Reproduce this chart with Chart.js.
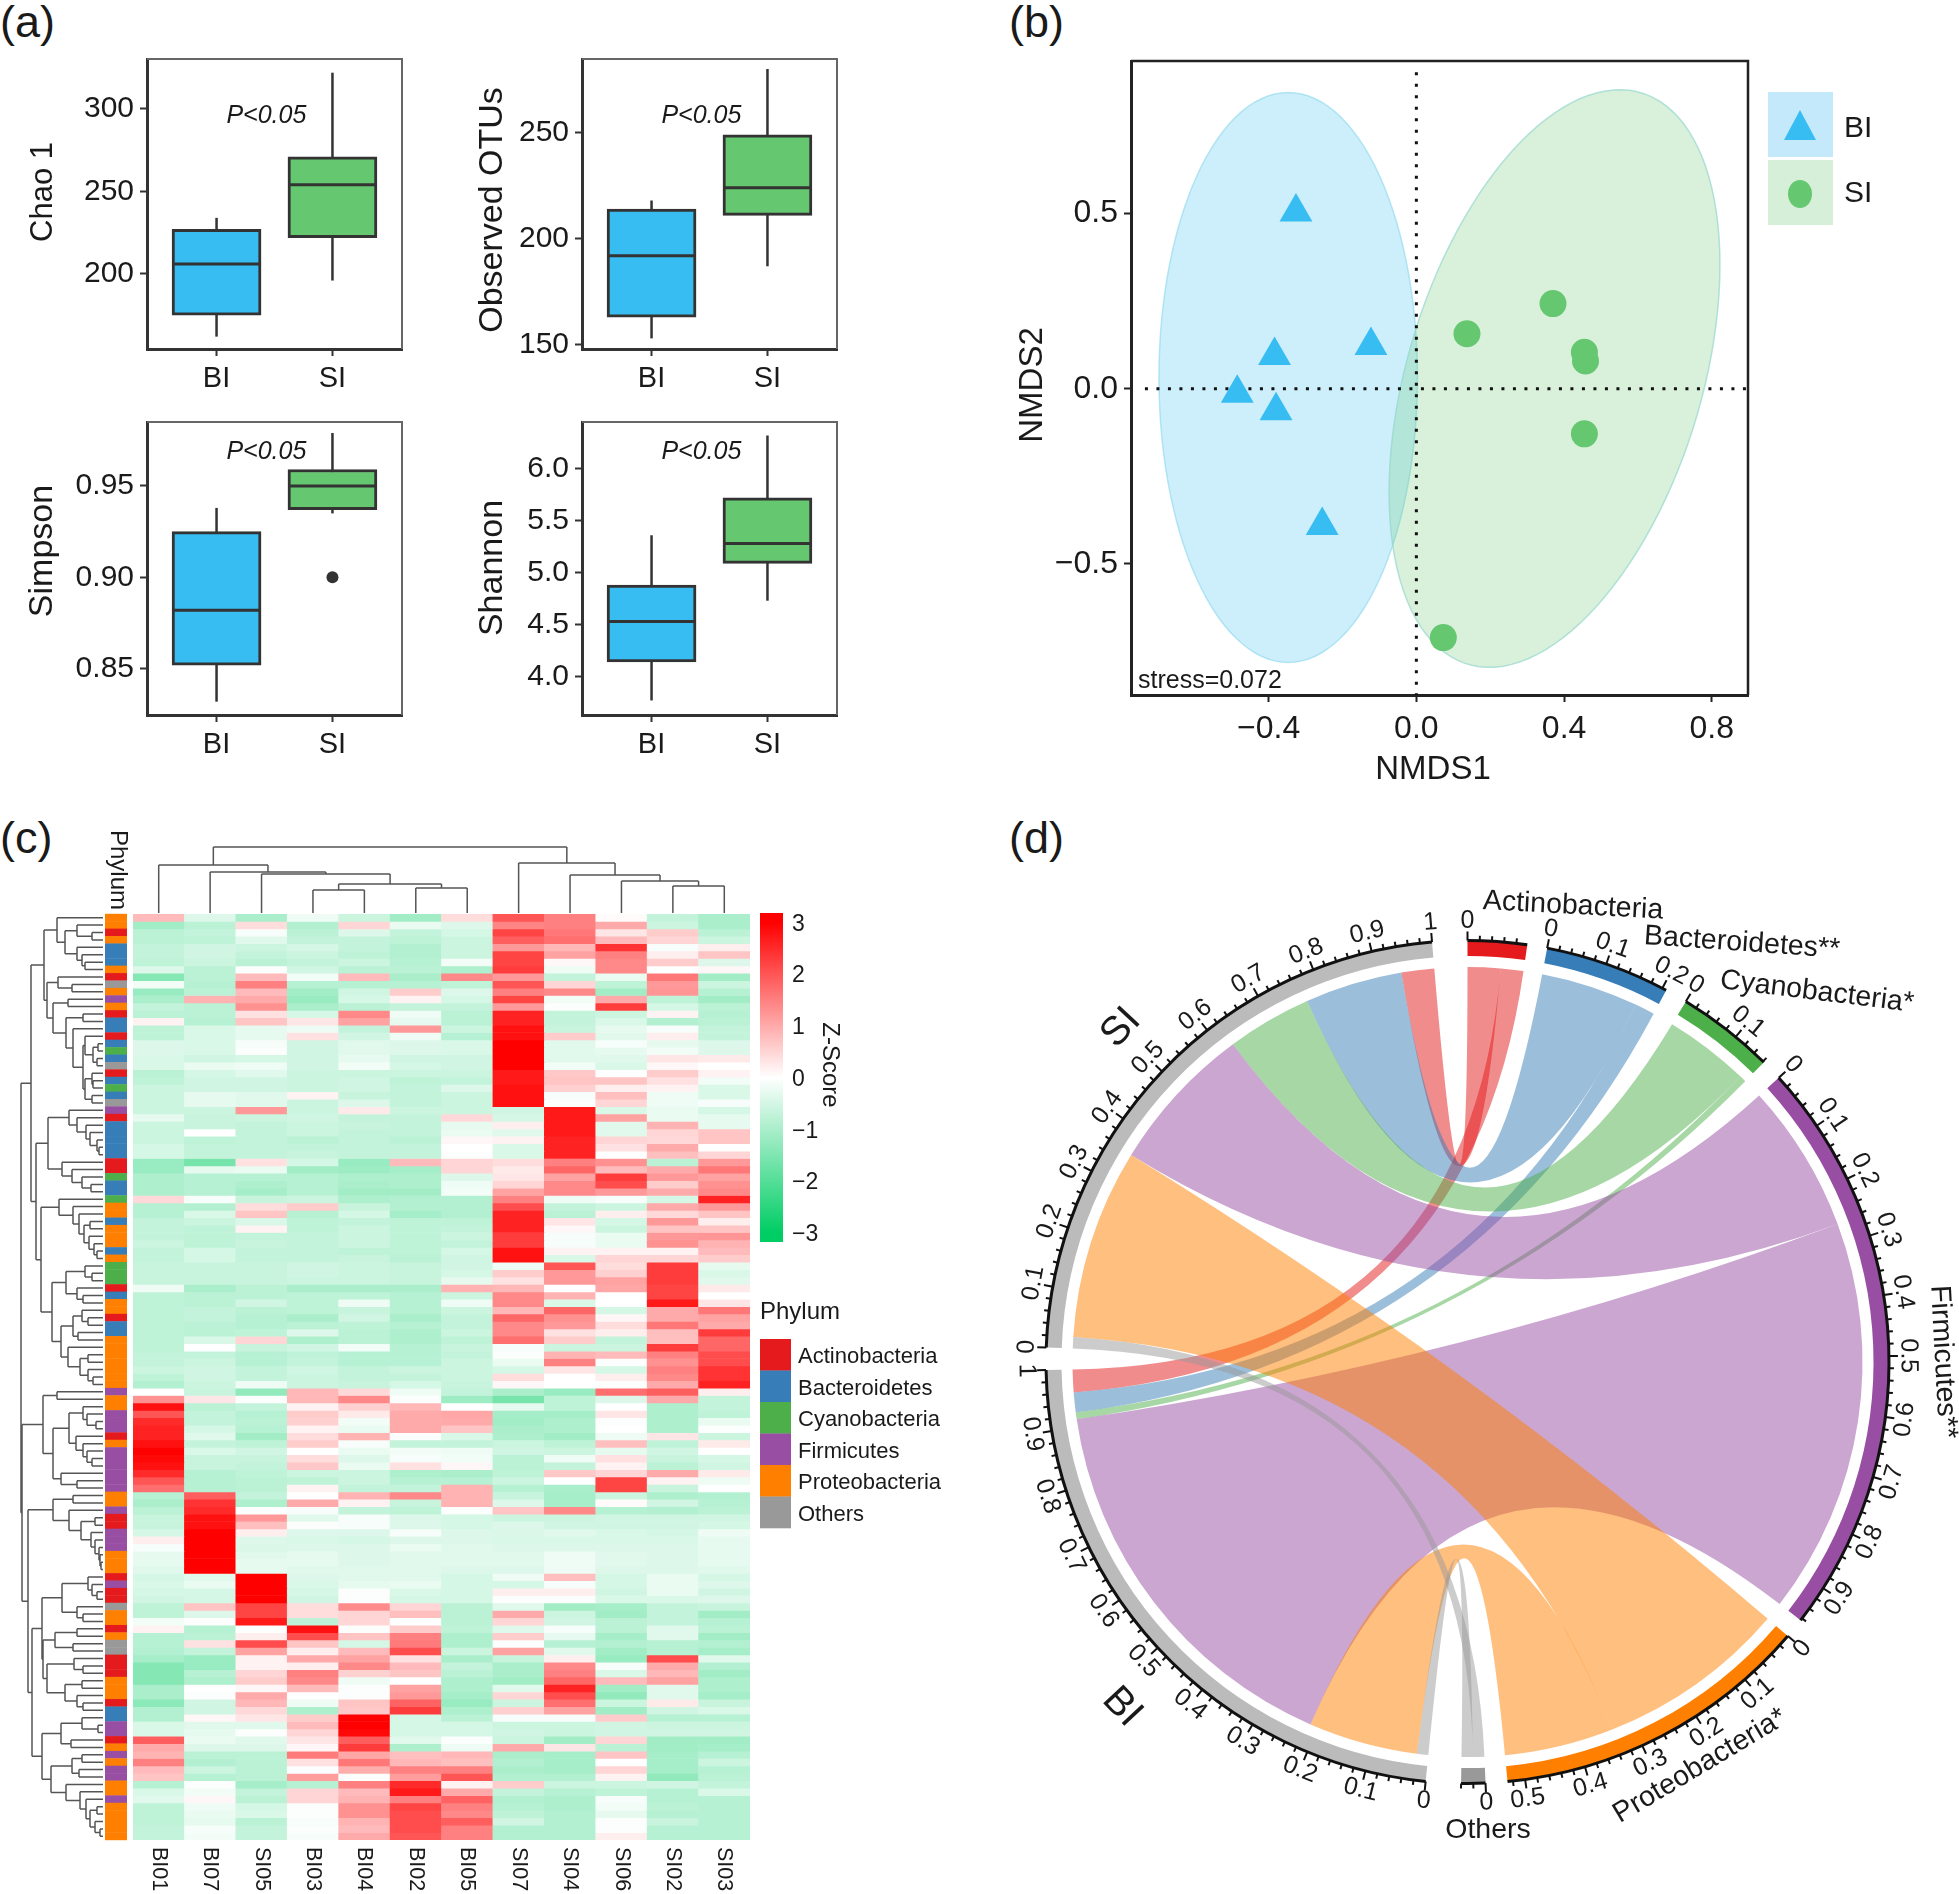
<!DOCTYPE html>
<html>
<head>
<meta charset="utf-8">
<title>Microbiota figure</title>
<script src="https://cdn.jsdelivr.net/npm/chart.js@4/dist/chart.umd.js"></script>
<style>
html, body { margin: 0; padding: 0; background: #fff; width: 1959px; height: 1894px; overflow: hidden; }
canvas { position: absolute; }
.panel { position: absolute; font: 45px "Liberation Sans", Arial, sans-serif; color: #1a1a1a; line-height: 48px; }
</style>
</head>
<body>
<div class="panel" style="left:0;top:-2px">(a)</div>
<div class="panel" style="left:1009px;top:-2px">(b)</div>
<div class="panel" style="left:0;top:814px">(c)</div>
<div class="panel" style="left:1009px;top:814px">(d)</div>
<script>
const FONT = '"Liberation Sans", Arial, sans-serif';
const INK = '#1a1a1a';

// (a) box plots: [low whisker, q1, median, q3, high whisker]
const boxCats = ['BI', 'SI'];
const boxColors = ['#38BDF2', '#66C771'];
const chaoBI = [162, 175, 206, 227, 234];
const chaoSI = [196, 222, 254, 271, 322];
const otusBI = [153, 163, 192, 214, 218];
const otusSI = [187, 211, 224, 249, 280];
const simpsonBI = [0.832, 0.852, 0.882, 0.925, 0.938];
const simpsonSI = [0.935, 0.937, 0.950, 0.959, 0.979];
const simpsonOutlier = [0.90];
const shannonBI = [3.77, 4.14, 4.53, 4.88, 5.36];
const shannonSI = [4.73, 5.09, 5.28, 5.72, 6.32];
const chaoTicks = [200, 250, 300];
const otusTicks = [150, 200, 250];
const simpsonTicks = [0.85, 0.90, 0.95];
const shannonTicks = [4.0, 4.5, 5.0, 5.5, 6.0];

// (b) NMDS
const biX = [-0.326, -0.384, -0.123, -0.485, -0.380, -0.255];
const biY = [0.505, 0.095, 0.123, -0.013, -0.063, -0.391];
const siX = [0.137, 0.370, 0.455, 0.458, 0.455, 0.073];
const siY = [0.157, 0.243, 0.104, 0.079, -0.129, -0.711];
// centre x, centre y, sd x, sd y, correlation
const ellipseBI = [-0.347, 0.032, 0.350, 0.814, 0];
const ellipseSI = [0.374, 0.029, 0.448, 0.825, 0.394];
const nmdsXTicks = [-0.4, 0, 0.4, 0.8];
const nmdsYTicks = [-0.5, 0, 0.5];

// (c) heatmap
const samples = ['BI01','BI07','SI05','BI03','BI04','BI02','BI05','SI07','SI04','SI06','SI02','SI03'];
const phyla = ['Actinobacteria','Bacteroidetes','Cyanobacteria','Firmicutes','Proteobacteria','Others'];
const phylaColors = ['#E41A1C','#377EB8','#4DAF4A','#984EA3','#FF7F00','#999999'];
const zTicks = [3, 2, 1, 0, -1, -2, -3];
const rowPhylum = [4,4,0,4,1,1,1,4,0,5,4,3,4,0,1,1,0,1,2,1,5,0,1,2,1,5,3,0,1,1,1,1,1,0,0,2,1,1,2,4,4,1,4,4,4,1,4,2,2,2,0,1,4,4,0,1,1,4,4,4,4,4,4,4,3,4,4,3,3,3,0,4,3,3,3,3,3,3,4,4,3,0,0,3,3,3,4,4,4,0,3,0,0,5,4,4,0,4,5,5,0,0,0,4,4,4,0,1,1,3,3,0,4,3,4,3,3,4,4,3,4,4,4,4,4];
const heatRows = [
[.8,-.4,-1,-.2,-.6,-1.1,.4,2,1.5,.05,-.7,-1],
[-1.1,-.8,.4,-.9,.5,-.25,-.4,1.45,1.5,1,-.6,-1],
[-.8,-.7,-.1,-.8,-.4,-.7,-.5,2.2,1.6,.3,.6,-.8],
[-.8,-.75,-.35,-.7,-.7,-.75,-.6,1.9,1.7,.8,.5,-.6],
[-.7,-.55,-.6,-.5,-.7,-.9,-.6,1.2,.85,2.4,-.1,.2],
[-.7,-.55,-.7,-.6,-.75,-.9,-.6,2.2,1.1,1.5,.2,.7],
[-.75,-.6,-.8,-.7,-.6,-.85,-.15,2.2,.1,1.4,.6,-.4],
[-.4,-.8,-.05,-.55,-.8,-.8,-.95,2.3,-.2,1.4,0,.1],
[-1.45,-.8,.8,-.15,.8,-1,1.4,1.2,-.7,-.25,1.6,-1.1],
[-.15,-.85,1.5,-.85,-.85,-.85,-.75,2,.5,-.75,1.2,-.6],
[-1.2,-.8,.8,-1.1,-.55,.6,-.4,1.5,1.4,-1.1,1.25,-.85],
[-1,.9,1,-1.2,-.5,.15,-.5,2.2,-.15,1,-.75,-1.1],
[-.7,-.8,1.3,-1,-.8,-.7,-.7,1.2,-.05,2.3,-.5,-.8],
[-.8,-.8,.35,-.5,1.4,-.2,-.8,2.6,-.7,-.6,.15,-.85],
[.15,-.85,.7,.3,1.1,-.3,-.8,2.6,-.7,-.45,-.9,-.8],
[-.75,-.45,-.3,-.2,-.7,1.2,-.6,2.8,-.65,-.3,-.1,-.7],
[-.75,-.45,-.3,.35,-.55,-.2,-.85,2.8,.6,-.35,.2,-.7],
[-.4,-.45,-.1,-.55,-.35,-.4,-.45,3,-.35,-.1,-.3,-.4],
[-.4,-.45,-.05,-.55,-.35,-.4,-.45,3,-.35,-.3,-.15,-.4],
[-.45,-.55,-.5,-.55,-.3,-.55,-.55,3,-.35,-.35,.3,.25],
[-.45,-.25,-.2,-.55,-.15,-.5,-.55,3,-.15,-.45,.1,0],
[-.8,-.5,-.35,-.6,-.6,-.6,-.6,2.7,.65,0,.6,.15],
[-.75,-.55,-.55,-.6,-.55,-.75,-.7,2.7,.7,.7,.35,-.15],
[-.6,-.55,-.55,-.6,-.55,-.7,-.4,2.8,.55,.2,.15,-.45],
[-.6,-.3,-.35,.15,-.65,-.7,-.6,2.8,-.1,.75,-.2,-.45],
[-.6,-.3,-.35,-.6,-.4,-.7,-.6,2.8,-.05,.5,-.2,-.1],
[-.6,-.6,1.2,-.6,.25,-.6,-.6,-.55,2.7,-.45,-.25,-.5],
[-.3,-.65,-.6,-.55,-.7,-.7,.45,-.5,2.7,1.1,-.25,-.3],
[-.6,-.65,-.7,-.6,-.65,-.7,-.3,.2,2.7,-.35,.9,-.3],
[-.6,0,-.7,-.6,-.7,-.7,-.25,-.35,2.7,-.35,.5,.7],
[-.6,-.75,-.7,-.8,-.7,-.8,.1,.15,2.6,.5,.45,.7],
[-.5,-.7,-.7,-.7,-.7,-.7,0,-.45,2.6,.35,1,0],
[-.5,-.7,-.7,-.65,-.7,-.7,-.05,-.45,2.6,0,.75,.5],
[-1.2,-1.6,.35,-.5,-1.2,.8,.5,.4,1.5,1.3,-.8,1.2],
[-1.2,-.3,-.25,-1.1,-1.15,-1.05,.5,.25,1.8,.8,1,1.6],
[-.95,-.85,-.85,-.85,-.95,-.95,-.4,.3,1.1,2.3,1.2,1.1],
[-.95,-.85,-.95,-.85,-1,-.95,-.2,.5,1.4,2.1,.6,1.3],
[-.95,-.85,-1.05,-.85,-1.1,-1.1,-.15,1.1,1.4,1.2,1,1.4],
[.45,-.1,-.65,-.6,-.95,-.9,-.9,1.5,-.2,-.1,-.5,2.6],
[-.85,-.9,.4,.6,-.65,-.9,-.9,2.1,-.7,-.6,1,1.2],
[-.85,-.45,.7,-.85,-.5,-1.05,-.9,2.6,-.8,.2,.45,.7],
[-.7,-.6,-.45,-.75,-.7,-.75,-.75,2.6,.3,-.5,1.2,.2],
[-.7,-.75,.15,-.75,-.6,-.75,-.7,2.6,.1,-.6,.7,.7],
[-.7,-.75,-.7,-.7,-.6,-.75,-.6,2.3,-.1,-.25,1.2,1.25],
[-.6,-.75,-.65,-.7,-.6,-.75,-.7,2.3,-.1,-.25,1.3,.9],
[-.7,-.5,-.7,-.7,-.75,-.75,-.5,2.8,.15,.15,.15,.8],
[-.7,-.5,-.7,-.7,-.65,-.8,-.55,2.8,-.45,.5,.5,.6],
[-.65,-.65,-.65,-.55,-.6,-.65,-.55,-.2,2,.4,2.3,-.3],
[-.65,-.65,-.65,-.55,-.6,-.65,-.5,.6,1.2,.55,2.3,-.45],
[-.65,-.65,-.65,-.6,-.6,-.65,-.3,.35,1.2,1.1,2.3,-.35],
[-.2,-1,-.8,-1,-1,-1,.9,.85,0,1.05,2.2,.25],
[-.75,-.8,-.8,-.75,-.75,-.85,-.6,1.4,.9,0,2.2,0],
[-.75,-.8,-.55,-.75,-.2,-.85,-.2,1.4,-.45,0,2.7,.3],
[-.75,-.7,-.8,-.75,-.65,-.85,-.6,.85,1.8,-.5,1,1.6],
[-.75,-.7,-.85,-1,-.55,-1,-.7,1.8,1.3,.1,1,1.1],
[-.75,-.8,-.85,-.8,-.75,-.85,-.7,1.4,1.2,.4,1.6,1],
[-.75,-.8,-.75,-.4,-.8,-.95,-.6,1.4,.35,.2,.75,2.3],
[-.75,-.45,.5,-.95,-.8,-.95,-.75,1.7,.6,-.7,.75,1.8],
[-.75,0,-.65,-.55,-.15,-.85,-.65,-.1,-.6,-.6,2.3,1.8],
[-.7,-.7,-.85,-.75,-.85,-.85,-.7,-.05,.9,.8,1.5,2.1],
[-.7,-.6,-.85,-.7,-.85,-.85,-.6,-.25,1.5,-.05,1.3,2.1],
[-.6,-.55,-.7,-.55,-.7,-.6,-.6,-.5,.3,-.5,1.5,2.4],
[-.75,-.55,-.7,-.6,-.7,-.7,-.6,.4,0,.2,1.4,2.4],
[-.9,-.6,-.2,-.6,-.65,-.5,-.65,.1,0,-.05,1,2.6],
[0,-.65,-1.3,.85,.45,-.2,-.7,-1,-1.2,1.7,1.9,.2],
[1.3,.3,-.05,.85,1.4,-.05,-1.15,-1.6,-.75,-.4,1,-.7],
[2.8,-.8,-.7,.15,.55,.85,0,-.3,-.75,0,-.95,-.7],
[2,-.7,-.85,.6,.25,1,1.05,-1.05,-1.05,.3,-.95,-.75],
[2.5,-.7,-.8,.55,-.15,1,1,-1.1,-.95,-.05,-.95,-.25],
[2.6,-.5,-.85,.15,-.25,1,.7,-1,-.95,0,-.95,-.05],
[2.6,-.35,-1.1,.4,.9,-.05,-.45,-.95,-1.1,-.2,.3,-.6],
[2.8,-.7,-.75,.6,-.1,-.7,-.7,-.6,-.75,.75,-.75,.25],
[3,-.45,-.55,0,-.25,-.15,-.2,-.55,-.6,-.3,-.55,0],
[2.9,-.65,-.65,.4,-.4,-.1,-.15,-.8,-.2,.35,-.65,-.5],
[2.8,-.65,-.7,.65,-.25,.35,.1,-.8,-.7,.15,-.8,-.55],
[2.5,-.85,-.75,-.6,-.6,-.95,-1,-.75,.65,.5,1,.25],
[2,-.85,-.8,-.75,-.6,-.85,-.85,-.6,0,2.2,.15,-.2],
[1.7,-.85,-.8,.15,-.7,-.7,.9,-.85,-1,2.2,-.65,0],
[-.85,1.9,-.7,0,.9,1.4,.9,-.65,-1.05,-.6,-.95,-.9],
[-1,2.4,-.95,1,.15,-.65,.9,-.4,-1.05,.05,-.55,-.85],
[-.8,2.5,-.05,-.1,-.7,-.75,-.05,.7,1.4,-.85,-.9,-.8],
[-.65,2.8,1.2,-.35,-.1,-.4,-.5,-.6,-.6,-.55,-.55,-.55],
[-.65,2.8,.75,-.05,-.1,-.4,-.5,-.4,-.55,-.55,-.55,-.5],
[-.5,3,.2,-.4,-.4,-.1,-.4,-.45,-.35,-.45,-.5,-.2],
[.2,3,-.4,-.45,-.5,-.4,-.4,-.45,-.45,-.45,-.45,-.3],
[-.1,3,-.45,-.4,-.4,-.25,-.35,-.4,-.4,-.4,-.4,-.3],
[-.3,3,-.35,-.3,-.4,-.35,-.35,-.35,-.2,-.35,-.4,-.3],
[-.3,3,-.3,-.3,-.4,-.35,-.35,-.35,-.2,-.35,-.4,-.3],
[-.35,3,-.3,-.35,-.35,-.35,-.4,-.4,-.2,-.4,-.4,-.35],
[-.5,-.35,3,-.4,-.35,-.35,-.5,-.2,.75,-.5,-.25,-.5],
[-.45,-.25,3,-.45,-.3,-.25,-.5,-.5,-.1,-.5,-.25,-.4],
[-.5,-.5,3,-.5,-.05,-.45,-.5,.2,.2,-.55,-.25,-.55],
[-.55,-.5,3,-.55,-.05,-.5,-.5,-.05,-.05,-.45,-.45,-.4],
[-.75,.7,2.2,.4,1.35,.5,-.8,-.35,-1.1,-1.05,-.7,-.65],
[-.75,-.4,2.2,.4,.5,.75,-.8,1,-.6,-1.1,-.7,-1.1],
[-.15,-.05,2.7,-.75,.5,-.05,-.8,.5,-.55,-.8,-.7,-.85],
[.15,-.85,0,2.8,-.05,.6,-.75,-.35,-.1,-.8,-.35,-.8],
[-.85,-.8,.2,2.1,.7,1.5,-.95,.6,-.3,-1.05,-.35,-1.1],
[-.85,.35,2.1,.7,-.5,1.55,-.95,-.05,-.85,-.9,-.85,-.9],
[-.9,-.7,1.1,.2,.8,2.1,-.6,1.1,-.35,-1.1,-.85,-1.05],
[-1.05,-1.2,.15,1,1.1,.35,-1,-.65,.2,-1.2,2.1,-.35],
[-1.45,-1.2,.15,.2,1.4,.8,-.7,-1,1.4,-.1,1,-.9],
[-1.45,-.85,.5,1.5,.55,.7,-.8,-1,1.5,-.45,.85,-1.1],
[-1.45,-.95,.6,1.4,-.2,0,-.95,-1.1,1.8,.8,1.1,-.95],
[-1,0,.1,.8,-.05,1.1,-.95,-.35,2.6,-1.1,-.35,-.95],
[-1,-.05,1,0,-.05,1.2,-1.05,.5,2.1,-1.3,-.35,-1.05],
[-1.35,-.55,.85,-.2,.7,1.85,-1.2,-.6,1.7,-.6,.25,-.65],
[-.9,-.55,.45,-.95,.65,2.3,-.95,.55,1.1,-1.1,-.55,-.45],
[-.9,.1,.3,.6,3,-.5,-.8,-.1,-.1,.6,-.85,-.85],
[-.45,-.35,-.35,.8,3,-.5,-.5,-.6,-.6,-.55,-.6,-.6],
[-.45,-.3,-.05,.5,2.9,-.5,-.5,-.55,-.6,-.55,-.55,-.55],
[1.9,-.25,-.35,.3,1.9,-.35,-.05,-.6,-1.1,.5,-1.1,-1.1],
[1,-.4,-.4,.1,2.3,-.95,-.2,1,.3,-.8,-1.1,-1.05],
[.9,-.8,-.8,1.55,1.05,.75,.85,-1,-1.05,.7,-1.05,-.85],
[1.5,-.9,-.8,.35,1.6,.85,.75,-.9,-1.05,0,-1.05,-.6],
[.8,-.6,-.8,-.05,.95,1.5,1.5,-1,-1.05,.5,-1.05,-.85],
[.7,-.85,-.8,1.15,-.05,1.15,2,-.9,-.9,.15,-1.3,-.8],
[-.85,-.05,-1.05,-.85,1.5,2.5,.15,.6,-.6,-.6,-.55,-.7],
[-.45,-.15,-.7,.5,.8,2.7,1,-.7,-.85,-.75,-.85,-.45],
[-.35,.1,-.8,.5,.9,1.5,1.85,-.9,-.95,-.1,-.85,-.85],
[-.75,-.2,-.5,-.05,1.3,2.2,1.5,-.85,-.95,-.15,-.8,-.85],
[-.75,-.25,-.45,-.05,1.3,2.1,1.4,-.75,-.9,-.3,-.85,-.85],
[-.75,-.3,-.8,-.1,.9,2.1,1.9,-.55,-.9,-.05,-.65,-.85],
[-.7,-.1,-.7,-.05,.8,2.1,1.5,-.9,-.9,-.05,-.85,-.85],
[-.7,-.15,-.7,-.1,1,2,1.5,-.9,-.9,.2,-.85,-.85]
];
// dendrograms: [height, child, child], a 0 is the next leaf in order
const colTree = [66,[48,0,[41,0,[39,0,[29,[23,0,0],[25,0,0]]]]],[50,0,[38,0,[32,0,[27,0,0]]]]];
const rowTree = [82,
  [72,
    [59,
      [46,0,[38,[26,0,[11,0,0]],[26,0,[21,0,[18,0,0]]]]],
      [56,[45,0,[31,0,0]],[50,[35,0,0],[37,[20,0,0],[30,0,[20,[18,0,[10,[5,0,0],[6,0,0]]],[18,[11,0,[10,0,0]],[11,0,0]]]]]]]],
    [67,
      [55,[34,0,[26,0,[17,0,[13,0,[6,0,[4,0,0]]]]]],[41,0,[31,0,[21,0,[12,0,0]]]]],
      [62,[44,0,[30,0,[24,0,[19,[13,0,0],[14,0,[9,0,[6,0,0]]]]]]],
        [51,[37,[18,0,[11,0,0]],[26,0,[20,0,0]]],
          [42,[30,[21,0,[15,0,0]],[25,0,0]],[35,0,[23,[15,0,0],[15,0,[10,0,0]]]]]]]]],
  [81,
    [60,[46,0,0],[50,[34,[20,0,[16,0,[7,0,0]]],[27,0,[20,0,[16,0,[11,0,0]]]]],[42,0,[26,0,0]]]],
    [75,
      [50,[30,0,0],[34,0,[22,[8,0,0],[12,0,[8,0,[4,0,[3,0,[2,0,0]]]]]]]],
      [71,
        [61,[41,[15,0,[11,0,[6,0,0]]],[26,0,[20,0,0]]],
          [60,[48,[26,0,0],[30,0,0]],[56,[29,0,[20,0,0]],[38,[21,0,0],[26,0,[20,0,0]]]]]],
        [61,[42,[21,0,[5,0,0]],[32,0,0]],
          [52,[31,[21,0,0],[24,0,0]],[37,0,[23,0,[17,0,[13,[6,0,0],[8,0,[3,0,0]]]]]]]]]]]];

// (d) chord: width of each phylum in the SI and BI sectors
const siWidths = [0.058, 0.172, 0.150, 0.264, 0.336, 0.020];
const biWidths = [0.040, 0.035, 0.012, 0.700, 0.193, 0.020];
const gapValues = [0.033, 0.037, 0.035, 0.033, 0.036, 0.058, 0.037, 0.058];
const ringNames = ['Actinobacteria', 'Bacteroidetes**', 'Cyanobacteria*', 'Firmicutes**', 'Proteobacteria*', 'Others', 'BI', 'SI'];
const ringColors = ['#E41A1C', '#377EB8', '#4DAF4A', '#984EA3', '#FF7F00', '#999999', '#BBBBBB', '#BBBBBB'];
const chordColors = ['rgba(228,26,28,.5)', 'rgba(55,126,184,.5)', 'rgba(77,175,74,.5)', 'rgba(152,78,163,.5)', 'rgba(255,127,0,.5)', 'rgba(153,153,153,.5)'];

function addCanvas(left, top, width, height) {
    const c = document.createElement('canvas');
    c.width = width; c.height = height;
    c.style.left = left + 'px'; c.style.top = top + 'px';
    c.style.width = width + 'px'; c.style.height = height + 'px';
    document.body.appendChild(c);
    return c;
}

function txt(ctx, str, x, y, size, opts) {
    const o = Object.assign({rot: 0, align: 'center', base: 'middle', style: '', color: INK}, opts);
    ctx.save();
    ctx.translate(x, y);
    ctx.rotate(o.rot * Math.PI / 180);
    ctx.font = `${o.style} ${size}px ${FONT}`;
    ctx.textAlign = o.align;
    ctx.textBaseline = o.base;
    ctx.fillStyle = o.color;
    ctx.fillText(str, 0, 0);
    ctx.restore();
}

// ---------- (a)
function boxChart(cfg) {
    const axisW = 127, axisH = 50, padTop = 30, padRight = 20;
    const canvas = addCanvas(cfg.left - axisW, cfg.top - padTop, axisW + cfg.w + padRight, padTop + cfg.h + axisH);
    const stats = [cfg.bi, cfg.si];
    const datasets = [{
        data: stats.map((s, i) => ({x: i + 1, y: [s[1], s[3]]})),
        backgroundColor: boxColors,
        borderColor: '#333',
        borderWidth: 3,
        borderSkipped: false,
        barThickness: 89
    }];
    if (cfg.outliers) {
        datasets.push({
            type: 'scatter',
            data: cfg.outliers.map(v => ({x: 2, y: v})),
            pointRadius: 6,
            backgroundColor: '#333',
            borderWidth: 0
        });
    }
    new Chart(canvas.getContext('2d'), {
        type: 'bar',
        data: {datasets: datasets},
        options: {
            responsive: false,
            animation: false,
            layout: {padding: {top: padTop, right: padRight}},
            plugins: {legend: {display: false}, tooltip: {enabled: false}},
            scales: {
                x: {
                    type: 'linear', min: 0.4, max: 2.6, offset: false,
                    afterFit: s => { s.height = axisH; },
                    afterBuildTicks: s => { s.ticks = boxCats.map((c, i) => ({value: i + 1})); },
                    border: {color: '#333', width: 3},
                    grid: {offset: false, drawOnChartArea: false, tickLength: 7, tickWidth: 2, tickColor: '#333'},
                    ticks: {autoSkip: false, maxRotation: 0, color: INK, padding: 6, font: {size: 29, family: FONT}, callback: v => boxCats[v - 1]}
                },
                y: {
                    min: cfg.yMin, max: cfg.yMax,
                    afterFit: s => { s.width = axisW; },
                    afterBuildTicks: s => { s.ticks = cfg.ticks.map(v => ({value: v})); },
                    border: {color: '#333', width: 3},
                    grid: {drawOnChartArea: false, tickLength: 7, tickWidth: 2, tickColor: '#333'},
                    ticks: {color: INK, padding: 6, font: {size: 30, family: FONT}, callback: v => v.toFixed(cfg.dec)}
                }
            }
        },
        plugins: [{
            id: 'boxParts',
            beforeDatasetsDraw(chart) {
                const {ctx, scales: {x, y}, chartArea: a} = chart;
                ctx.save();
                ctx.strokeStyle = '#666';
                ctx.lineWidth = 2;
                ctx.beginPath();
                ctx.moveTo(a.left, a.top); ctx.lineTo(a.right, a.top); ctx.lineTo(a.right, a.bottom);
                ctx.stroke();
                ctx.strokeStyle = '#333';
                ctx.lineWidth = 2.5;
                stats.forEach((s, i) => {
                    ctx.beginPath();
                    ctx.moveTo(x.getPixelForValue(i + 1), y.getPixelForValue(s[0]));
                    ctx.lineTo(x.getPixelForValue(i + 1), y.getPixelForValue(s[4]));
                    ctx.stroke();
                });
                ctx.restore();
            },
            afterDatasetsDraw(chart) {
                const {ctx, scales: {x, y}} = chart;
                ctx.save();
                ctx.strokeStyle = '#333';
                ctx.lineWidth = 3;
                stats.forEach((s, i) => {
                    const c = x.getPixelForValue(i + 1);
                    ctx.beginPath();
                    ctx.moveTo(c - 44, y.getPixelForValue(s[2]));
                    ctx.lineTo(c + 44, y.getPixelForValue(s[2]));
                    ctx.stroke();
                });
                ctx.restore();
                txt(ctx, 'P<0.05', x.getPixelForValue(1.43), y.getPixelForValue(cfg.pY), 25, {style: 'italic'});
                txt(ctx, cfg.title, cfg.titleX, cfg.titleY - cfg.top + padTop, cfg.titleSize, {rot: -90});
            }
        }]
    });
}
boxChart({left: 147, top: 59, w: 255, h: 290, bi: chaoBI, si: chaoSI, yMin: 154.5, yMax: 330.3, ticks: chaoTicks, dec: 0, pY: 296, title: 'Chao 1', titleSize: 31, titleX: 23, titleY: 192});
boxChart({left: 582, top: 59, w: 255, h: 290, bi: otusBI, si: otusSI, yMin: 148, yMax: 284.7, ticks: otusTicks, dec: 0, pY: 258, title: 'Observed OTUs', titleSize: 34, titleX: 38, titleY: 210});
boxChart({left: 147, top: 422, w: 255, h: 293, bi: simpsonBI, si: simpsonSI, outliers: simpsonOutlier, yMin: 0.8247, yMax: 0.985, ticks: simpsonTicks, dec: 2, pY: 0.9685, title: 'Simpson', titleSize: 34, titleX: 23, titleY: 551});
boxChart({left: 582, top: 422, w: 255, h: 293, bi: shannonBI, si: shannonSI, yMin: 3.63, yMax: 6.45, ticks: shannonTicks, dec: 1, pY: 6.157, title: 'Shannon', titleSize: 34, titleX: 38, titleY: 568});

// ---------- (b)
const nmdsLeft = 1000, nmdsTop = 31;
function ellipsePath(chart, e) {
    const {x, y} = chart.scales;
    const {ctx} = chart;
    ctx.beginPath();
    for (let i = 0; i <= 120; i++) {
        const t = i / 120 * 2 * Math.PI;
        const vx = e[0] + e[2] * Math.cos(t);
        const vy = e[1] + e[3] * (e[4] * Math.cos(t) + Math.sqrt(1 - e[4] * e[4]) * Math.sin(t));
        if (i === 0) ctx.moveTo(x.getPixelForValue(vx), y.getPixelForValue(vy));
        else ctx.lineTo(x.getPixelForValue(vx), y.getPixelForValue(vy));
    }
    ctx.closePath();
}
new Chart(addCanvas(nmdsLeft, nmdsTop, 1959 - nmdsLeft, 769).getContext('2d'), {
    type: 'scatter',
    data: {
        datasets: [
            {label: 'BI', data: biX.map((v, i) => ({x: v, y: biY[i]})), pointStyle: 'triangle', pointRadius: 19, backgroundColor: '#38BDF2', borderWidth: 0},
            {label: 'SI', data: siX.map((v, i) => ({x: v, y: siY[i]})), pointStyle: 'circle', pointRadius: 13.5, backgroundColor: '#66C771', borderWidth: 0}
        ]
    },
    options: {
        responsive: false,
        animation: false,
        layout: {padding: {top: 30, right: 211}},
        plugins: {legend: {display: false}, tooltip: {enabled: false}},
        scales: {
            x: {
                min: -0.7727, max: 0.898,
                afterFit: s => { s.height = 105; },
                afterBuildTicks: s => { s.ticks = nmdsXTicks.map(v => ({value: v})); },
                border: {color: '#222', width: 3},
                grid: {drawOnChartArea: false, tickLength: 7, tickWidth: 2, tickColor: '#222'},
                ticks: {autoSkip: false, maxRotation: 0, color: INK, padding: 8, font: {size: 32, family: FONT}, callback: v => v.toFixed(1).replace('-', '\u2212')}
            },
            y: {
                min: -0.875, max: 0.936,
                afterFit: s => { s.width = 131; },
                afterBuildTicks: s => { s.ticks = nmdsYTicks.map(v => ({value: v})); },
                border: {color: '#222', width: 3},
                grid: {drawOnChartArea: false, tickLength: 7, tickWidth: 2, tickColor: '#222'},
                ticks: {color: INK, padding: 6, font: {size: 32, family: FONT}, callback: v => v.toFixed(1).replace('-', '\u2212')}
            }
        }
    },
    plugins: [{
        id: 'nmdsParts',
        beforeDatasetsDraw(chart) {
            const {ctx, scales: {x, y}, chartArea: a} = chart;
            ctx.save();
            ctx.strokeStyle = '#222';
            ctx.lineWidth = 2.5;
            ctx.beginPath();
            ctx.moveTo(a.left, a.top); ctx.lineTo(a.right, a.top); ctx.lineTo(a.right, a.bottom);
            ctx.stroke();
            ctx.fillStyle = 'rgba(56,190,242,.25)';
            ctx.strokeStyle = 'rgba(140,215,235,.6)';
            ctx.lineWidth = 1.5;
            ellipsePath(chart, ellipseBI); ctx.fill(); ctx.stroke();
            ctx.fillStyle = 'rgba(102,199,113,.25)';
            ctx.strokeStyle = 'rgba(150,215,205,.7)';
            ellipsePath(chart, ellipseSI); ctx.fill(); ctx.stroke();
            ctx.strokeStyle = '#111';
            ctx.lineWidth = 3;
            ctx.setLineDash([3, 8.5]);
            ctx.beginPath();
            ctx.moveTo(x.getPixelForValue(0), y.getPixelForValue(0.904));
            ctx.lineTo(x.getPixelForValue(0), y.getPixelForValue(-0.875));
            ctx.moveTo(x.getPixelForValue(-0.735), y.getPixelForValue(0));
            ctx.lineTo(x.getPixelForValue(0.898), y.getPixelForValue(0));
            ctx.stroke();
            ctx.restore();
        },
        afterDraw(chart) {
            const {ctx, chartArea: a} = chart;
            txt(ctx, 'stress=0.072', a.left + 7, a.bottom - 14, 25, {align: 'left'});
            txt(ctx, 'NMDS1', 1433 - nmdsLeft, 770 - nmdsTop, 33);
            txt(ctx, 'NMDS2', 1033 - nmdsLeft, 385 - nmdsTop, 33, {rot: -90});
            // legend keys
            const kx = 1768 - nmdsLeft;
            ctx.fillStyle = '#C4E9FB';
            ctx.fillRect(kx, 92 - nmdsTop, 65, 65);
            ctx.fillStyle = '#D6EFD9';
            ctx.fillRect(kx, 160 - nmdsTop, 65, 65);
            ctx.fillStyle = '#38BDF2';
            ctx.beginPath();
            ctx.moveTo(1800 - nmdsLeft, 110 - nmdsTop);
            ctx.lineTo(1816 - nmdsLeft, 140 - nmdsTop);
            ctx.lineTo(1784 - nmdsLeft, 140 - nmdsTop);
            ctx.closePath();
            ctx.fill();
            ctx.fillStyle = '#66C771';
            ctx.beginPath();
            ctx.ellipse(1800 - nmdsLeft, 194 - nmdsTop, 12, 14, 0, 0, 2 * Math.PI);
            ctx.fill();
            txt(ctx, boxCats[0], 1844 - nmdsLeft, 129 - nmdsTop, 30, {align: 'left'});
            txt(ctx, boxCats[1], 1844 - nmdsLeft, 194 - nmdsTop, 30, {align: 'left'});
        }
    }]
});

// ---------- (c)
function zColor(z) {
    const t = Math.min(Math.abs(z) / 3, 1);
    if (z >= 0) return `rgb(255,${Math.round(255 * (1 - t))},${Math.round(255 * (1 - t))})`;
    return `rgb(${Math.round(255 * (1 - t))},${Math.round(255 - 50 * t)},${Math.round(255 - 155 * t)})`;
}
const heatTop = 820;
function drawTree(node, counter, pos, draw) {
    if (!Array.isArray(node)) return {p: pos(counter.n++), h: 0};
    const a = drawTree(node[1], counter, pos, draw);
    const b = drawTree(node[2], counter, pos, draw);
    const h = node[0];
    draw(a.p, a.h, a.p, h);
    draw(b.p, b.h, b.p, h);
    draw(a.p, h, b.p, h);
    return {p: (a.p + b.p) / 2, h: h};
}
new Chart(addCanvas(0, heatTop, 960, 1894 - heatTop).getContext('2d'), {
    type: 'bar',
    data: {
        labels: samples,
        datasets: heatRows.map((row, k) => ({
            data: row.map(() => [k, k + 1]),
            backgroundColor: row.map(zColor),
            borderWidth: 0
        }))
    },
    options: {
        responsive: false,
        animation: false,
        layout: {padding: {left: 133, right: 210, top: 94, bottom: 54}},
        plugins: {legend: {display: false}, tooltip: {enabled: false}},
        datasets: {bar: {grouped: false, barPercentage: 1, categoryPercentage: 1}},
        scales: {
            x: {display: false},
            y: {display: false, reverse: true, min: 0, max: heatRows.length}
        }
    },
    plugins: [{
        id: 'heatParts',
        afterDraw(chart) {
            const {ctx, scales: {x, y}, chartArea: a} = chart;
            // phylum strip
            rowPhylum.forEach((p, k) => {
                ctx.fillStyle = phylaColors[p];
                const y0 = y.getPixelForValue(k), y1 = y.getPixelForValue(k + 1);
                ctx.fillRect(105, y0 - 0.2, 22, y1 - y0 + 0.4);
            });
            // dendrograms
            ctx.save();
            ctx.strokeStyle = '#555';
            ctx.lineWidth = 1.5;
            ctx.beginPath();
            drawTree(rowTree, {n: 0}, k => y.getPixelForValue(k + 0.5), (p0, h0, p1, h1) => {
                ctx.moveTo(103 - h0, p0); ctx.lineTo(103 - h1, p1);
            });
            drawTree(colTree, {n: 0}, i => x.getPixelForValue(i), (p0, h0, p1, h1) => {
                ctx.moveTo(p0, a.top - 1 - h0); ctx.lineTo(p1, a.top - 1 - h1);
            });
            ctx.stroke();
            ctx.restore();
            // sample and strip labels
            samples.forEach((s, i) => {
                txt(ctx, s, x.getPixelForValue(i), 1847 - heatTop, 21.5, {rot: 90, align: 'left'});
            });
            txt(ctx, 'Phylum', 118, 830 - heatTop, 24, {rot: 90, align: 'left'});
            // colour bar
            const pxPerUnit = 51.7, zeroY = 1077.5 - heatTop;
            const grad = ctx.createLinearGradient(0, 913 - heatTop, 0, 1242 - heatTop);
            zTicks.forEach(z => {
                grad.addColorStop((329 / 2 - z * pxPerUnit) / 329, zColor(z));
            });
            ctx.fillStyle = grad;
            ctx.fillRect(760, 913 - heatTop, 23, 329);
            zTicks.forEach(z => {
                txt(ctx, String(z).replace('-', '\u2212'), 792, zeroY + 2 - z * pxPerUnit, 23, {align: 'left'});
            });
            txt(ctx, 'Z-Score', 830, 1065 - heatTop, 24, {rot: 90});
            // phylum legend
            txt(ctx, 'Phylum', 760, 1312 - heatTop, 24, {align: 'left'});
            phyla.forEach((p, i) => {
                const ky = 1339 + i * 31.5 - heatTop;
                ctx.fillStyle = phylaColors[i];
                ctx.fillRect(760, ky, 31, 31.8);
                txt(ctx, p, 798, ky + 18, 22, {align: 'left'});
            });
        }
    }]
});

// ---------- (d)
const chordLeft = 976, chordTop = 830;
const phylumTotals = siWidths.map((v, i) => v + biWidths[i]);
const ringTotals = phylumTotals.concat([1, 1]);
const ringData = [], ringFill = [];
ringTotals.forEach((v, i) => {
    ringData.push(v, gapValues[i]);
    ringFill.push(ringColors[i], 'rgba(0,0,0,0)');
});
// label place (page px) and rotation
const ringLabelPos = [[1573, 906, 3], [1742, 943, 4], [1817, 992, 7], [1943, 1362, 87], [1700, 1766, -31], [1488, 1830, 0], [1122, 1707, 47], [1121, 1028, -47]];
const ringLabelSize = [28.5, 28.5, 28.5, 28.5, 28.5, 28.5, 40, 40];

new Chart(addCanvas(chordLeft, chordTop, 1959 - chordLeft, 1894 - chordTop).getContext('2d'), {
    type: 'doughnut',
    data: {datasets: [{data: ringData, backgroundColor: ringFill, borderWidth: 0}]},
    options: {
        responsive: false,
        animation: false,
        radius: 421,
        cutout: '96.44%',
        plugins: {legend: {display: false}, tooltip: {enabled: false}}
    },
    plugins: [{
        id: 'chordParts',
        afterDatasetsDraw(chart) {
            const {ctx} = chart;
            const arcs = chart.getDatasetMeta(0).data;
            const cx = arcs[0].x, cy = arcs[0].y;
            const chordR = 395, axisR = 421.5;
            const angle = (sector, v) => {
                const arc = arcs[sector * 2];
                return arc.startAngle + v / ringTotals[sector] * (arc.endAngle - arc.startAngle);
            };
            const chord = (a0, a1, b0, b1, color) => {
                ctx.beginPath();
                ctx.arc(cx, cy, chordR, a0, a1);
                ctx.quadraticCurveTo(cx, cy, cx + chordR * Math.cos(b0), cy + chordR * Math.sin(b0));
                ctx.arc(cx, cy, chordR, b0, b1);
                ctx.quadraticCurveTo(cx, cy, cx + chordR * Math.cos(a0), cy + chordR * Math.sin(a0));
                ctx.closePath();
                ctx.fillStyle = color;
                ctx.fill();
            };
            // sector 6 = BI, sector 7 = SI; phyla run backwards from each group's start
            const offset = (w, i) => w.slice(i + 1).reduce((s, v) => s + v, 0);
            phyla.forEach((name, i) => {
                const siStart = offset(siWidths, i), biStart = offset(biWidths, i);
                chord(angle(7, siStart), angle(7, siStart + siWidths[i]), angle(i, 0), angle(i, siWidths[i]), chordColors[i]);
                chord(angle(6, biStart), angle(6, biStart + biWidths[i]), angle(i, siWidths[i]), angle(i, phylumTotals[i]), chordColors[i]);
            });
            // tick axes
            ctx.save();
            ctx.strokeStyle = '#111';
            ringTotals.forEach((total, s) => {
                ctx.lineWidth = 3;
                ctx.beginPath();
                ctx.arc(cx, cy, axisR, angle(s, 0), angle(s, total));
                ctx.stroke();
                ctx.lineWidth = 2;
                const n = Math.floor(total / 0.02 + 1e-6);
                for (let i = 0; i <= n; i++) {
                    const th = angle(s, i * 0.02);
                    const major = i % 5 === 0;
                    const len = major ? 9 : 5;
                    ctx.beginPath();
                    ctx.moveTo(cx + axisR * Math.cos(th), cy + axisR * Math.sin(th));
                    ctx.lineTo(cx + (axisR + len) * Math.cos(th), cy + (axisR + len) * Math.sin(th));
                    ctx.stroke();
                    if (major) {
                        const deg = th * 180 / Math.PI;
                        const rot = Math.sin(th) < 0 ? deg + 90 : deg - 90;
                        txt(ctx, String(i / 50), cx + 441 * Math.cos(th), cy + 441 * Math.sin(th), 25, {rot: rot});
                    }
                }
            });
            ctx.restore();
            ringNames.forEach((name, i) => {
                const p = ringLabelPos[i];
                txt(ctx, name, p[0] - chordLeft, p[1] - chordTop, ringLabelSize[i], {rot: p[2]});
            });
        }
    }]
});
</script>
</body>
</html>
